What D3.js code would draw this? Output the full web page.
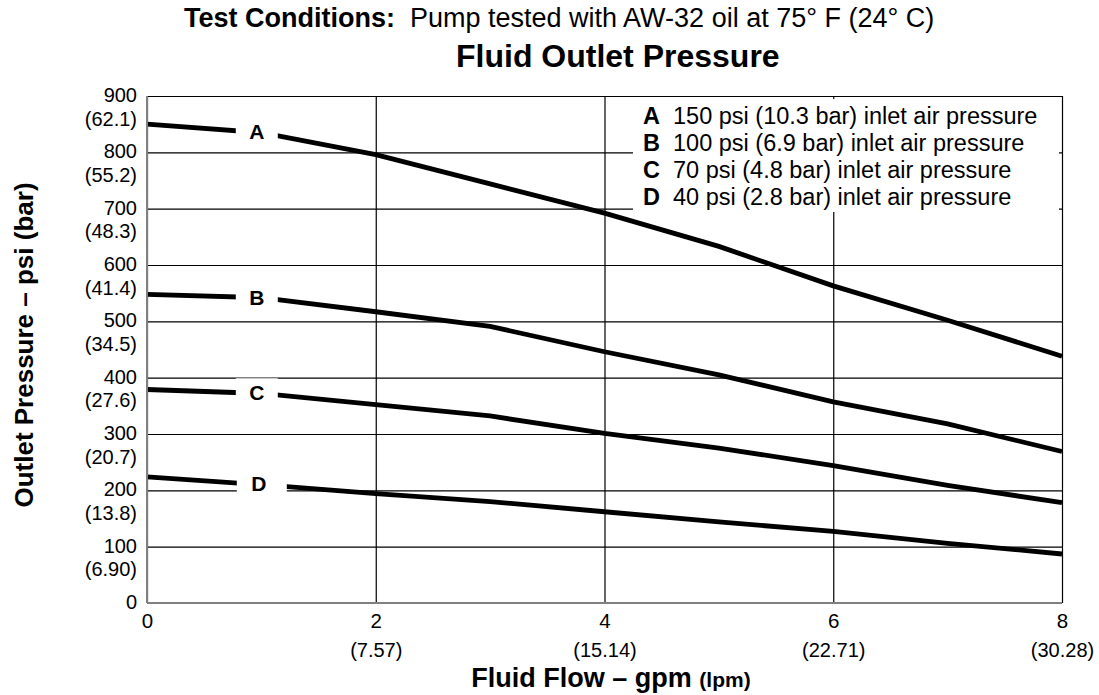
<!DOCTYPE html>
<html>
<head>
<meta charset="utf-8">
<script src="https://cdn.jsdelivr.net/npm/d3@7"></script>
<style>
body { margin: 0; background: #fff; }
svg { display: block; font-family: "Liberation Sans", Arial, sans-serif; }
</style>
</head>
<body>
<div id="chart"></div>
<script>
// values
var flowGpm = [0, 1, 2, 3, 4, 5, 6, 7, 8];
var curveA = [850, 835, 796, 744, 692, 633, 563, 502, 438];
var curveB = [548, 542, 517, 491, 446, 405, 357, 318, 269];
var curveC = [379, 372, 352, 332, 301, 275, 244, 209, 178];
var curveD = [224, 210, 194, 180, 162, 144, 127, 106, 87];
var curveNames = ["A", "B", "C", "D"];
var legendTexts = [
  "150 psi (10.3 bar) inlet air pressure",
  "100 psi (6.9 bar) inlet air pressure",
  "70 psi (4.8 bar) inlet air pressure",
  "40 psi (2.8 bar) inlet air pressure"
];
var psiTicks = [0, 100, 200, 300, 400, 500, 600, 700, 800, 900];
var barTicks = ["", "(6.90)", "(13.8)", "(20.7)", "(27.6)", "(34.5)", "(41.4)", "(48.3)", "(55.2)", "(62.1)"];
var gpmTicks = [0, 2, 4, 6, 8];
var lpmTicks = ["", "(7.57)", "(15.14)", "(22.71)", "(30.28)"];

var width = 1099;
var height = 695;
var plotLeft = 147, plotRight = 1062, plotTop = 96, plotBottom = 603;

var svg = d3.select("#chart").append("svg")
  .attr("width", width)
  .attr("height", height);

var x = d3.scaleLinear().domain([0, 8]).range([plotLeft, plotRight]);
var y = d3.scaleLinear().domain([0, 900]).range([plotBottom, plotTop]);

// y axis + horizontal grid
var gy = svg.append("g")
  .attr("transform", "translate(" + plotLeft + ",0)")
  .call(d3.axisLeft(y).tickValues(psiTicks).tickSize(-(plotRight - plotLeft)).tickPadding(10).tickFormat(d3.format("d")))
  .attr("font-size", 20)
  .attr("font-family", null);
gy.select(".domain").remove();
gy.selectAll(".tick line").attr("stroke", "#000").attr("stroke-width", 1.2);
gy.selectAll(".tick text").attr("fill", "#000").attr("dy", "0.27em");
gy.selectAll(".tick").append("text")
  .attr("x", -10)
  .attr("y", 29)
  .attr("fill", "#000")
  .text(function (d, i) { return barTicks[i]; });

// x axis + vertical grid
var gx = svg.append("g")
  .attr("transform", "translate(0," + plotBottom + ")")
  .call(d3.axisBottom(x).tickValues(gpmTicks).tickSize(-(plotBottom - plotTop)).tickPadding(10))
  .attr("font-size", 20.5)
  .attr("font-family", null);
gx.select(".domain").remove();
gx.selectAll(".tick line").attr("stroke", "#000").attr("stroke-width", 1.2);
gx.selectAll(".tick text").attr("fill", "#000");
gx.selectAll(".tick").append("text")
  .attr("y", 54)
  .attr("text-anchor", "middle")
  .attr("font-size", 20)
  .attr("fill", "#000")
  .text(function (d, i) { return lpmTicks[i]; });

// legend box hides the grid behind it
svg.append("rect")
  .attr("x", 633).attr("y", 99)
  .attr("width", 426).attr("height", 113)
  .attr("fill", "#fff");

// curves
var curves = [curveA, curveB, curveC, curveD];
var line = d3.line()
  .x(function (d, i) { return x(flowGpm[i]); })
  .y(function (d) { return y(d); });

svg.selectAll("path.curve")
  .data(curves)
  .enter()
  .append("path")
  .attr("class", "curve")
  .attr("d", line)
  .attr("fill", "none")
  .attr("stroke", "#000")
  .attr("stroke-width", 4.8);

// letter labels sitting on the curves
var labelGpm = 0.96;
curves.forEach(function (c, i) {
  var v = c[0] + (c[1] - c[0]) * labelGpm;
  var cx = x(labelGpm) + (i == 3 ? 5 : 0);
  var cy = y(v);
  var w = i == 3 ? 50 : 42;
  svg.append("rect")
    .attr("x", cx - w / 2).attr("y", cy - 15)
    .attr("width", w).attr("height", 30)
    .attr("fill", "#fff");
  svg.append("text")
    .attr("x", cx - (i == 3 ? 3 : 0)).attr("y", cy + 7)
    .attr("text-anchor", "middle")
    .attr("font-size", 21)
    .attr("font-weight", "bold")
    .text(curveNames[i]);
});

// axis lines
svg.append("line")
  .attr("x1", plotLeft).attr("x2", plotLeft)
  .attr("y1", plotTop).attr("y2", plotBottom)
  .attr("stroke", "#808080").attr("stroke-width", 2);
svg.append("line")
  .attr("x1", plotLeft).attr("x2", plotRight)
  .attr("y1", plotBottom).attr("y2", plotBottom)
  .attr("stroke", "#808080").attr("stroke-width", 2);

// legend
var legend = svg.append("g").attr("font-size", 23.5);
legend.selectAll("text.key")
  .data(curveNames)
  .enter()
  .append("text")
  .attr("x", 643)
  .attr("y", function (d, i) { return 124 + i * 27; })
  .attr("font-weight", "bold")
  .text(function (d) { return d; });
legend.selectAll("text.desc")
  .data(legendTexts)
  .enter()
  .append("text")
  .attr("x", 673)
  .attr("y", function (d, i) { return 124 + i * 27; })
  .text(function (d) { return d; });

// titles
var t1 = svg.append("text")
  .attr("x", 184).attr("y", 27)
  .attr("font-size", 27);
t1.append("tspan").attr("font-weight", "bold").text("Test Conditions:");
t1.append("tspan").text("\u00a0\u00a0Pump tested with AW-32 oil at 75\u00b0 F (24\u00b0 C)");

svg.append("text")
  .attr("x", 456).attr("y", 67)
  .attr("font-size", 32)
  .attr("font-weight", "bold")
  .text("Fluid Outlet Pressure");

svg.append("text")
  .attr("transform", "translate(33,345) rotate(-90)")
  .attr("text-anchor", "middle")
  .attr("font-size", 26)
  .attr("font-weight", "bold")
  .text("Outlet Pressure \u2013 psi (bar)");

var xt = svg.append("text")
  .attr("x", 611).attr("y", 687)
  .attr("text-anchor", "middle")
  .attr("font-weight", "bold");
xt.append("tspan").attr("font-size", 27).text("Fluid Flow \u2013 gpm ");
xt.append("tspan").attr("font-size", 21).text("(lpm)");
</script>
</body>
</html>
